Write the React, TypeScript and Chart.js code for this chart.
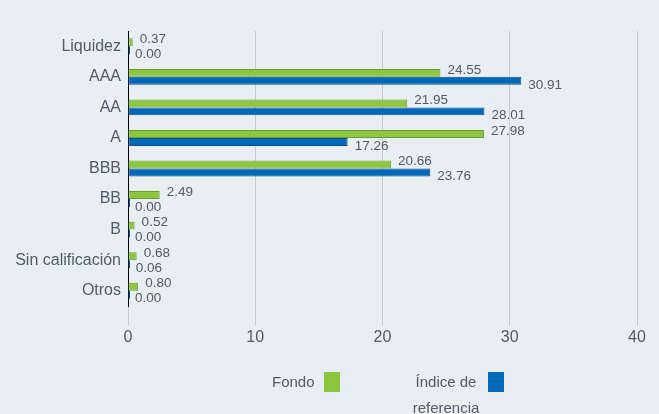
import React, { useEffect, useRef } from "react";
import { Chart, registerables } from "chart.js";

Chart.register(...registerables);

const categories = ["Liquidez", "AAA", "AA", "A", "BBB", "BB", "B", "Sin calificación", "Otros"];
const fondo = [0.37, 24.55, 21.95, 27.98, 20.66, 2.49, 0.52, 0.68, 0.8];
const indice = [0.0, 30.91, 28.01, 17.26, 23.76, 0.0, 0.0, 0.06, 0.0];
const xTicks = [0, 10, 20, 30, 40];
const seriesNames = ["Fondo", "Índice de referencia"];

const BG = "#e9eef2";
const TEXT = "#4f5c6a";
const GREEN = "#8dc63f";
const GREEN_B = "#6b9e2f";
const BLUE = "#0068b8";
const BLUE_B = "#0c4f8f";
const FONT = "'Liberation Sans', Arial, sans-serif";

const labelPlugin = {
  id: "valueLabels",
  afterDatasetsDraw(chart: any) {
    const ctx = chart.ctx;
    ctx.save();
    ctx.font = `13.5px ${FONT}`;
    ctx.fillStyle = TEXT;
    ctx.textAlign = "left";
    ctx.textBaseline = "middle";
    chart.data.datasets.forEach((ds: any, di: number) => {
      const meta = chart.getDatasetMeta(di);
      meta.data.forEach((bar: any, i: number) => {
        const v = ds.data[i] as number;
        const x = chart.scales.x.getPixelForValue(v) + 7;
        const y = di === 0 ? bar.y - 3 : bar.y + 4;
        ctx.fillText(v.toFixed(2), x, y);
      });
    });
    ctx.restore();
  },
};

export default function App() {
  const ref = useRef<HTMLCanvasElement | null>(null);
  useEffect(() => {
    document.body.style.margin = "0";
    document.body.style.background = BG;
    const chart = new Chart(ref.current as HTMLCanvasElement, {
      type: "bar",
      data: {
        labels: categories,
        datasets: [
          {
            label: seriesNames[0],
            data: fondo,
            backgroundColor: GREEN,
            borderColor: GREEN_B,
            borderWidth: 1,
            borderSkipped: false,
            categoryPercentage: 0.52,
            barPercentage: 1,
          },
          {
            label: seriesNames[1],
            data: indice,
            backgroundColor: BLUE,
            borderColor: BLUE_B,
            borderWidth: 1,
            borderSkipped: false,
            categoryPercentage: 0.52,
            barPercentage: 1,
            minBarLength: 2,
          },
        ],
      },
      options: {
        indexAxis: "y",
        responsive: false,
        animation: false,
        layout: { padding: { top: 31, right: 22, left: 0, bottom: 0 } },
        plugins: { legend: { display: false }, tooltip: { enabled: false }, title: { display: false } },
        scales: {
          x: {
            min: 0,
            max: 40,
            afterBuildTicks: (s: any) => {
              s.ticks = xTicks.map((v) => ({ value: v }));
            },
            afterFit: (s: any) => {
              s.height = 108;
            },
            grid: { color: "#c9cccf", lineWidth: 1, tickLength: 20, drawTicks: true },
            border: { display: false },
            ticks: { color: TEXT, font: { size: 16, family: FONT }, padding: 2 },
          },
          y: {
            afterFit: (s: any) => {
              s.width = 128;
            },
            grid: { display: false, drawTicks: false },
            border: { display: true, color: "#000000", width: 1 },
            ticks: { color: TEXT, font: { size: 16, family: FONT }, padding: 7 },
          },
        },
      },
      plugins: [labelPlugin],
    } as any);
    return () => chart.destroy();
  }, []);

  const sq = (color: string, left: number) => (
    <div style={{ position: "absolute", left, top: 372, width: 16, height: 20, background: color }} />
  );

  return (
    <div style={{ position: "fixed", left: 0, top: 0, width: 659, height: 414, background: BG, fontFamily: FONT }}>
      <canvas ref={ref} width={659} height={414} style={{ position: "absolute", left: 0, top: 0 }} />
      <div style={{ position: "absolute", left: 272, top: 372, lineHeight: "20px", fontSize: 15, color: TEXT }}>
        {seriesNames[0]}
      </div>
      {sq(GREEN, 324)}
      <div
        style={{
          position: "absolute",
          left: 404,
          top: 369,
          width: 84,
          textAlign: "center",
          lineHeight: "26px",
          fontSize: 15,
          color: TEXT,
        }}
      >
        Índice de
        <br />
        referencia
      </div>
      {sq(BLUE, 488)}
    </div>
  );
}
